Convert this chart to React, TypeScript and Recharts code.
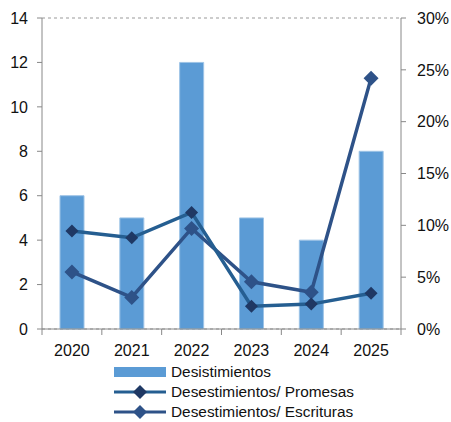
import React from "react";
import {
  Bar,
  CartesianGrid,
  ComposedChart,
  Legend,
  Line,
  XAxis,
  YAxis,
} from "recharts";

const years = ["2020", "2021", "2022", "2023", "2024", "2025"];
const desistimientos = [6, 5, 12, 5, 4, 8];
const promesas = [9.45, 8.8, 11.25, 2.2, 2.4, 3.45];
const escrituras = [5.5, 3.05, 9.7, 4.55, 3.55, 24.2];

const leftTicks = [0, 2, 4, 6, 8, 10, 12, 14];
const rightTicks = [0, 5, 10, 15, 20, 25, 30];

const BAR = "#5B9BD5";
const PROM_LINE = "#255E91";
const PROM_DOT = "#1F3864";
const ESC_LINE = "#2E5288";

const data = years.map((y, i) => ({
  year: y,
  desistimientos: desistimientos[i],
  promesas: promesas[i],
  escrituras: escrituras[i],
}));

const legendItems = [
  { key: "bar", label: "Desistimientos", line: "", dot: "" },
  { key: "prom", label: "Desestimientos/ Promesas", line: PROM_LINE, dot: PROM_DOT },
  { key: "esc", label: "Desestimientos/ Escrituras", line: ESC_LINE, dot: ESC_LINE },
];

const FONT = "'Liberation Sans', Arial, sans-serif";
const PLOT_W = 359;
const band = PLOT_W / years.length;

const Diamond = (props: any) => {
  const { cx, cy, fill, size } = props;
  if (cx == null || cy == null) return null;
  const s = size / 2;
  return (
    <path
      d={`M${cx},${cy - s} L${cx + s},${cy} L${cx},${cy + s} L${cx - s},${cy} Z`}
      fill={fill}
    />
  );
};

// category label plus boundary tick marks between the bars
const YearTick = (props: any) => {
  const { x, y, payload, index } = props;
  const left = x - band / 2;
  return (
    <g>
      <line x1={left} y1={y - 8} x2={left} y2={y - 2} stroke="#888" />
      {index === years.length - 1 && (
        <line x1={x + band / 2} y1={y - 8} x2={x + band / 2} y2={y - 2} stroke="#888" />
      )}
      <text x={x} y={y + 19} textAnchor="middle" fontSize={16} fill="#111" fontFamily={FONT}>
        {payload.value}
      </text>
    </g>
  );
};

const LegendBox = () => (
  <div
    style={{
      height: 60,
      paddingTop: 8,
      paddingLeft: 113,
      fontFamily: FONT,
      fontSize: 15.4,
      color: "#111",
    }}
  >
    {legendItems.map((it) => (
      <div key={it.key} style={{ display: "flex", alignItems: "center", height: 20 }}>
        <svg width={58} height={16}>
          {it.key === "bar" ? (
            <rect x={1} y={3} width={52} height={10} fill={BAR} />
          ) : (
            <g>
              <line x1={1} y1={8} x2={53} y2={8} stroke={it.line} strokeWidth={3} />
              <path d="M27,1 L34,8 L27,15 L20,8 Z" fill={it.dot} />
            </g>
          )}
        </svg>
        <span>{it.label}</span>
      </div>
    ))}
  </div>
);

export default function App() {
  return (
    <div style={{ position: "absolute", left: 0, top: 0, background: "#fff" }}>
      <ComposedChart
        width={451}
        height={422}
        data={data}
        margin={{ top: 18, right: 0, left: 0, bottom: 0 }}
      >
        <CartesianGrid vertical={false} stroke="#999" strokeDasharray="3 3" />
        <XAxis
          dataKey="year"
          height={25}
          stroke="#888"
          tickLine={false}
          tick={<YearTick />}
          interval={0}
        />
        <YAxis
          yAxisId="left"
          domain={[0, 14]}
          ticks={leftTicks}
          width={42}
          stroke="#888"
          tickSize={5}
          tickMargin={9}
          tick={{ fontSize: 16, fill: "#111", fontFamily: FONT }}
        />
        <YAxis
          yAxisId="right"
          orientation="right"
          domain={[0, 30]}
          ticks={rightTicks}
          width={50}
          stroke="#888"
          tickSize={5}
          tickMargin={11}
          tickFormatter={(v: number) => `${v}%`}
          tick={{ fontSize: 16, fill: "#111", fontFamily: FONT }}
        />
        <Bar
          yAxisId="left"
          dataKey="desistimientos"
          fill={BAR}
          stroke="#9DC3E6"
          strokeWidth={1}
          barSize={24}
          isAnimationActive={false}
        />
        <Line
          yAxisId="right"
          dataKey="escrituras"
          stroke={ESC_LINE}
          strokeWidth={3.5}
          dot={<Diamond fill={ESC_LINE} size={15} />}
          activeDot={false}
          isAnimationActive={false}
        />
        <Line
          yAxisId="right"
          dataKey="promesas"
          stroke={PROM_LINE}
          strokeWidth={3.5}
          dot={<Diamond fill={PROM_DOT} size={13} />}
          activeDot={false}
          isAnimationActive={false}
        />
        <Legend verticalAlign="bottom" content={<LegendBox />} />
      </ComposedChart>
    </div>
  );
}
